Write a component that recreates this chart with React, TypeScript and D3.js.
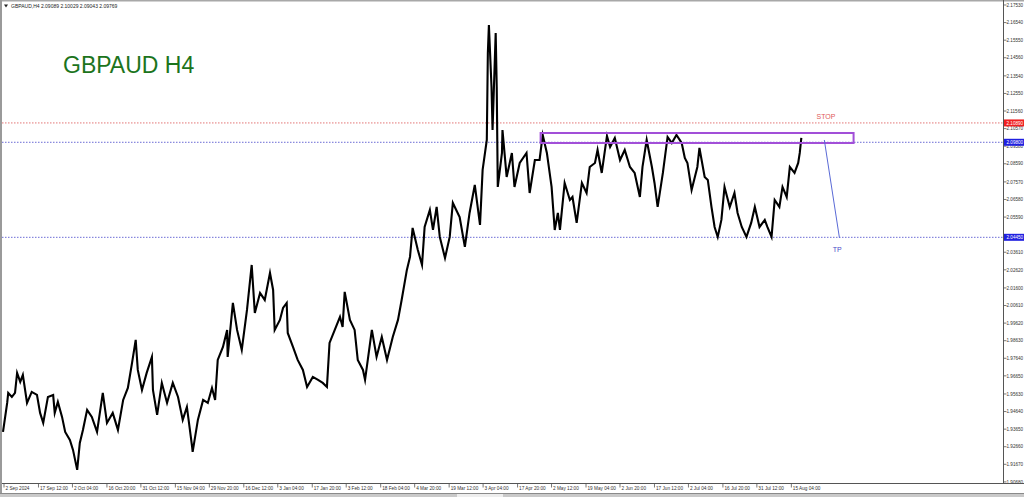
import React from "react";
import * as d3 from "d3";

const title = "GBPAUD H4";
const header = "GBPAUD,H4  2.09089 2.10029 2.09043 2.09769";

const priceTicks = [
  2.1753, 2.1654, 2.1555, 2.1456, 2.1354, 2.1255, 2.1156, 2.1057, 2.0958, 2.0859,
  2.0757, 2.0658, 2.0559, 2.046, 2.0361, 2.0262, 2.016, 2.0061, 1.9962, 1.9863,
  1.9764, 1.9665, 1.9563, 1.9464, 1.9365, 1.9266, 1.9167, 1.9068,
];

const timeLabels = [
  "2 Sep 2024", "17 Sep 12:00", "2 Oct 04:00", "16 Oct 20:00", "31 Oct 12:00",
  "15 Nov 04:00", "29 Nov 20:00", "16 Dec 12:00", "3 Jan 04:00", "17 Jan 20:00",
  "3 Feb 12:00", "18 Feb 04:00", "4 Mar 20:00", "19 Mar 12:00", "3 Apr 04:00",
  "17 Apr 20:00", "2 May 12:00", "19 May 04:00", "2 Jun 20:00", "17 Jun 12:00",
  "2 Jul 04:00", "16 Jul 20:00", "31 Jul 12:00", "15 Aug 04:00",
];
const timeLabelBars = [
  0, 66, 131, 197, 262, 328, 393, 459, 524, 590, 655, 721, 786, 852, 917, 983,
  1048, 1114, 1179, 1245, 1310, 1376, 1441, 1507,
];

// swing points (H4 bar index since 2 Sep 2024, price)
const swingBars = [
  0, 8, 10, 17, 23, 27, 33, 38, 46, 55, 65, 71, 77, 86, 96, 99, 105, 113, 119, 128,
  134, 142, 147, 153, 161, 170, 180, 191, 199, 210, 220, 230, 239, 247, 254, 258,
  266, 275, 285, 287, 295, 304, 314, 325, 335, 344, 352, 362, 363, 373, 383, 392,
  400, 406, 411, 421, 429, 430, 440, 448, 457, 467, 476, 482, 492, 501, 511, 517,
  520, 530, 536, 543, 545, 555, 564, 574, 582, 593, 603, 612, 620, 625, 635, 645,
  650, 654, 664, 673, 679, 689, 693, 706, 715, 725, 735, 746, 756, 763, 773, 779,
  784, 794, 802, 807, 817, 823, 830, 836, 846, 855, 861, 874, 884, 893, 903, 913,
  918, 926, 928, 930, 935, 937, 943, 945, 947, 955, 956, 964, 974, 979, 989, 1002,
  1008, 1018, 1027, 1033, 1041, 1050, 1056, 1062, 1066, 1075, 1085, 1090, 1098, 1108,
  1117, 1123, 1133, 1138, 1146, 1156, 1162, 1171, 1181, 1190, 1200, 1209, 1219, 1224,
  1232, 1242, 1247, 1253, 1263, 1272, 1280, 1289, 1299, 1305, 1310, 1318, 1329, 1333,
  1343, 1349, 1356, 1362, 1368, 1375, 1381, 1391, 1400, 1406, 1414, 1423, 1432, 1439,
  1448, 1458, 1463, 1471, 1477, 1486, 1492, 1500, 1506, 1515, 1522, 1525, 1528,
];
const swingPrices = [
  1.93494, 1.95127, 1.95689, 1.95464, 1.95689, 1.96815, 1.96309, 1.96703, 1.95127, 1.95746,
  1.95577, 1.94564, 1.94001, 1.95464, 1.95577, 1.94564, 1.95183, 1.94339, 1.93494, 1.93044,
  1.92481, 1.91355, 1.92875, 1.93607, 1.94733, 1.94339, 1.93494, 1.95689, 1.94001, 1.94564,
  1.93607, 1.95295, 1.95971, 1.97378, 1.98673, 1.96984, 1.95858, 1.96815, 1.97716, 1.95858,
  1.94451, 1.96252, 1.95127, 1.96252, 1.95464, 1.94170, 1.94901, 1.92650, 1.92368, 1.94170,
  1.95295, 1.95127, 1.95971, 1.95295, 1.97547, 1.98279, 1.99236, 1.97716, 2.00755, 1.99236,
  1.98110, 2.00361, 2.02894, 2.00193, 2.01318, 2.00924, 2.02444, 2.01487, 1.99236, 1.99799,
  2.00474, 2.00755, 1.99067, 1.98279, 1.97547, 1.96984, 1.96027, 1.96590, 1.96421, 1.96252,
  1.96027, 1.98504, 1.99236, 1.99967, 1.99405, 2.01375, 1.99799, 1.99236, 1.97547, 1.96984,
  1.96421, 1.99236, 1.97716, 1.98842, 1.97547, 1.98842, 1.99799, 2.00924, 2.02613, 2.03345,
  2.04977, 2.03739, 2.02894, 2.05033, 2.05990, 2.04865, 2.06159, 2.04471, 2.03288, 2.04471,
  2.06384, 2.05596, 2.03908, 2.05821, 2.07398, 2.05146, 2.08242, 2.09931, 2.14828, 2.16404,
  2.12914, 2.10493, 2.15954, 2.12914, 2.07285, 2.09199, 2.10493, 2.07848, 2.09199, 2.07285,
  2.08636, 2.09199, 2.06947, 2.08805, 2.08805, 2.10212, 2.09199, 2.07285, 2.04865, 2.05821,
  2.04865, 2.07510, 2.06553, 2.06722, 2.05259, 2.07510, 2.06947, 2.08411, 2.08636, 2.09368,
  2.08073, 2.10156, 2.09537, 2.10043, 2.08805, 2.09368, 2.08411, 2.08073, 2.06722, 2.08411,
  2.09931, 2.08411, 2.07510, 2.06159, 2.08073, 2.10099, 2.09762, 2.10212, 2.09762, 2.08917,
  2.08636, 2.07116, 2.08411, 2.09480, 2.07848, 2.07679, 2.06159, 2.05033, 2.04471, 2.05427,
  2.07285, 2.06159, 2.06947, 2.05821, 2.05033, 2.04471, 2.05259, 2.06159, 2.05033, 2.05427,
  2.05033, 2.04471, 2.06553, 2.06159, 2.07285, 2.06722, 2.08411, 2.08073, 2.08636, 2.09199,
  2.10043,
];

const stopLevel = 2.1089;
const entryLevel = 2.098;
const tpLevel = 2.0445;
const zoneBars = [1029, 1628];
const zonePrices = [2.0976, 2.10323];
const arrowBars = [1572, 1601];
const arrowPrices = [2.09929, 2.04412];
const stopText = { bar: 1557, price: 2.1111, label: "STOP" };
const tpText = { bar: 1588, price: 2.03628, label: "TP" };

const W = 1024;
const H = 497;

export default function App() {
  const x = d3.scaleLinear().domain([0, 1914]).range([3, 1003]);
  const y = d3.scaleLinear().domain([1.90674, 2.17811]).range([482, 0]);
  const axisX = 1003.5;
  const bottomY = 483.5;

  const pts: [number, number][] = swingBars.map((b, i) => [x(b), y(swingPrices[i])]);
  const line = d3.line<[number, number]>().x((d) => d[0]).y((d) => d[1]);

  const fontAxis = "'Liberation Sans', Arial, sans-serif";

  const levelLabels = [
    { v: stopLevel, fill: "#f02020", text: "2.10890" },
    { v: entryLevel, fill: "#2020e0", text: "2.09800" },
    { v: tpLevel, fill: "#2020e0", text: "2.04450" },
  ];
  // tick labels covered by a level box are not shown
  const visibleTicks = priceTicks.filter(
    (t) => !levelLabels.some((l) => Math.abs(y(t) - y(l.v)) < 3.2)
  );

  return (
    <svg
      width={W}
      height={H}
      style={{ position: "absolute", left: 0, top: 0, background: "#fff" }}
    >
      <rect x={0} y={0} width={W} height={H} fill="#fff" />
      {/* frame */}
      <rect x={0} y={0} width={W} height={1.5} fill="#a8a8a8" />
      <rect x={0} y={0} width={2} height={H} fill="#9a9a9a" />
      <rect x={0} y={493} width={W} height={4} fill="#c9c9c9" />
      <line x1={0} x2={W} y1={493.5} y2={493.5} stroke="#8a8a8a" strokeWidth={1} />
      <rect x={457} y={494} width={46} height={3} fill="#eeeeee" />

      {/* header */}
      <path d="M4,4.5 L8,4.5 L6,7.5 Z" fill="#222" />
      <text x={11} y={8} fontSize={5} fontFamily={fontAxis} fill="#222">
        {header}
      </text>
      <text x={63} y={73} fontSize={23} fontFamily="'Liberation Sans', Arial, sans-serif" fill="#1c741c">
        {title}
      </text>

      {/* level lines */}
      <line x1={2} x2={axisX} y1={y(stopLevel)} y2={y(stopLevel)} stroke="#e06666" strokeWidth={0.9} strokeDasharray="1.5,1.5" />
      <line x1={2} x2={axisX} y1={y(entryLevel)} y2={y(entryLevel)} stroke="#5a5ad0" strokeWidth={0.9} strokeDasharray="1.5,1.5" />
      <line x1={2} x2={axisX} y1={y(tpLevel)} y2={y(tpLevel)} stroke="#5a5ad0" strokeWidth={0.9} strokeDasharray="1.5,1.5" />

      {/* price */}
      <path d={line(pts) || ""} fill="none" stroke="#000" strokeWidth={2.1} strokeLinejoin="miter" strokeMiterlimit={6} />

      {/* zone */}
      <rect
        x={x(zoneBars[0])}
        y={y(zonePrices[1])}
        width={x(zoneBars[1]) - x(zoneBars[0])}
        height={y(zonePrices[0]) - y(zonePrices[1])}
        fill="none"
        stroke="#a24fd8"
        strokeWidth={2}
      />
      {/* arrow */}
      <line
        x1={x(arrowBars[0])}
        y1={y(arrowPrices[0])}
        x2={x(arrowBars[1])}
        y2={y(arrowPrices[1])}
        stroke="#5a6ad6"
        strokeWidth={1}
      />
      <text x={x(stopText.bar)} y={y(stopText.price)} fontSize={7} fontFamily="'Liberation Sans', Arial, sans-serif" fill="#e05a5a">
        {stopText.label}
      </text>
      <text x={x(tpText.bar)} y={y(tpText.price)} fontSize={7} fontFamily="'Liberation Sans', Arial, sans-serif" fill="#4a4ac8">
        {tpText.label}
      </text>

      {/* right axis */}
      <line x1={axisX} x2={axisX} y1={0} y2={bottomY} stroke="#555" strokeWidth={1} />
      {priceTicks.map((t) => (
        <line key={"k" + t} x1={axisX} x2={axisX + 3} y1={y(t)} y2={y(t)} stroke="#555" strokeWidth={0.8} />
      ))}
      {visibleTicks.map((t) => (
        <text key={t} x={1006.5} y={y(t) + 1.7} fontSize={4.6} fontFamily={fontAxis} fill="#333">
          {t.toFixed(5)}
        </text>
      ))}
      {levelLabels.map((l) => (
        <g key={l.text}>
          <rect x={axisX + 0.5} y={y(l.v) - 3.5} width={W - axisX} height={7} fill={l.fill} />
          <text x={1006.5} y={y(l.v) + 1.7} fontSize={4.6} fontFamily={fontAxis} fill="#fff">
            {l.text}
          </text>
        </g>
      ))}

      {/* bottom axis */}
      <line x1={2} x2={W} y1={bottomY} y2={bottomY} stroke="#555" strokeWidth={1} />
      {timeLabels.map((lab, i) => {
        const tx = x(timeLabelBars[i]) + 1;
        return (
          <g key={lab}>
            <line x1={tx} x2={tx} y1={bottomY} y2={bottomY + 4} stroke="#555" strokeWidth={0.8} />
            <text x={tx + 1.5} y={490} fontSize={4.7} fontFamily={fontAxis} fill="#333">
              {lab}
            </text>
          </g>
        );
      })}
    </svg>
  );
}
